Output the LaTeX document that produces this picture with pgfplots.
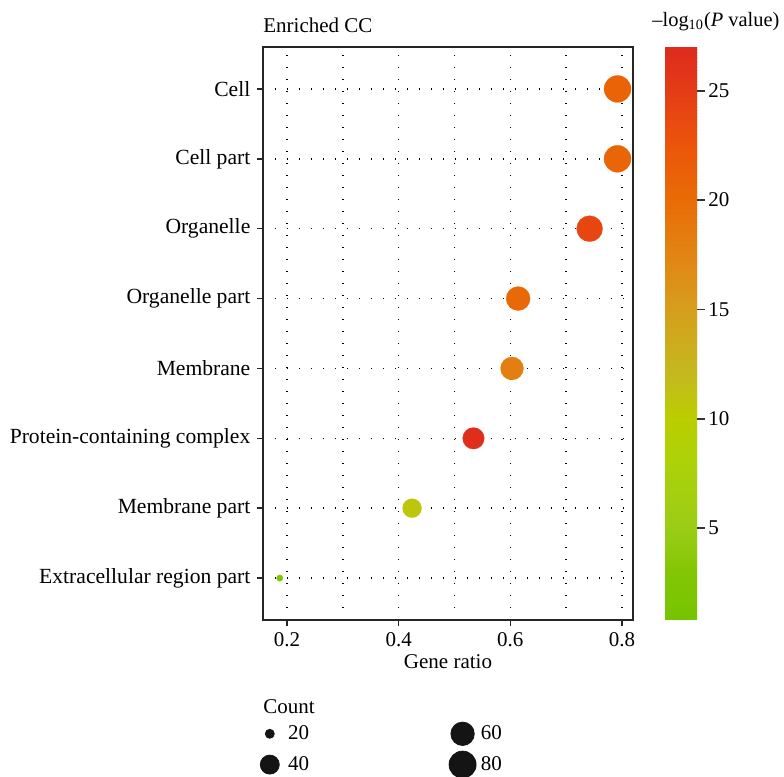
\documentclass[border=0pt]{standalone}
\usepackage{fontspec}
\setmainfont{Liberation Serif}
\usepackage{pgfplots}
\pgfplotsset{compat=1.18}
\usepackage{pgfplotstable}

% ratio = gene ratio, y = category index (1 = bottom), r = marker radius (pt), logp = -log10(P)
\pgfplotstableread{
ratio y r logp count
0.187 1 1.6 2.0 19
0.424 2 4.75 10.8 43
0.534 3 5.4 26.5 54
0.603 4 5.75 18.0 61
0.614 5 6.0 20.3 62
0.742 6 6.5 24.0 75
0.792 7 6.75 20.6 80
0.792 8 6.75 20.9 80
}\ccdata

\pgfplotsset{
  colormap={cc}{
    rgb255(8)=(118,196,0)
    rgb255(30)=(130,198,5)
    rgb255(50)=(155,204,22)
    rgb255(80)=(172,210,8)
    rgb255(100)=(186,206,0)
    rgb255(120)=(196,185,30)
    rgb255(150)=(214,158,28)
    rgb255(175)=(226,132,20)
    rgb255(200)=(233,108,6)
    rgb255(225)=(235,85,10)
    rgb255(250)=(228,60,22)
    rgb255(270)=(222,42,30)
  }
}

\begin{document}
\begin{tikzpicture}[font=\fontsize{10.5}{12.6}\selectfont]
\useasboundingbox (-131.5pt,-78.5pt) rectangle (260.5pt,310pt);
\begin{axis}[
  name=main,
  at={(0,0)}, anchor=south west,
  scale only axis,
  width=185pt, height=286.5pt,
  xmin=0.157, xmax=0.8197,
  ymin=0.4, ymax=8.6,
  xtick={0.2,0.4,0.6,0.8},
  minor xtick={0.3,0.5,0.7},
  xtick pos=bottom, ytick pos=left,
  xticklabel style={/pgf/number format/.cd, fixed, precision=1, assume math mode=true},
  ytick={1,2,3,4,5,6,7,8},
  yticklabels={Extracellular region part, Membrane part, Protein-containing complex, Membrane, Organelle part, Organelle, Cell part, Cell},
  yticklabel style={font=\fontsize{10.8}{13}\selectfont},
  xmajorgrids, xminorgrids, ymajorgrids,
  grid style={black, line width=0.7pt, dash pattern=on 0.7pt off 5.3pt},
  minor grid style={black, line width=0.7pt, dash pattern=on 0.7pt off 5.3pt},
  tick align=outside,
  major tick length=2.8pt, minor tick length=0pt,
  tick style={black!85, line width=0.75pt},
  axis line style={black!85, line width=0.8pt},
  xlabel={Gene ratio},
  xlabel style={at={(axis description cs:0.5,0)}, anchor=base, yshift=-24.5pt, inner sep=0pt},
  title={Enriched CC},
  title style={at={(axis description cs:0,1)}, anchor=base west, yshift=1.5pt, inner sep=0pt},
  colormap name=cc,
  point meta min=0.8, point meta max=27,
  colorbar sampled,
  colorbar style={
    samples=200,
    width=16pt,
    at={(parent axis.north east)}, anchor=north west, xshift=7.5pt,
    ytick={5,10,15,20,25},
    ytick pos=right,
    tick align=outside,
    major tick length=4pt,
    tick style={black!80, line width=0.8pt},
    axis line style={draw=none},
    yticklabel style={/pgf/number format/assume math mode=true, inner sep=1.5pt},
    title={\fontsize{10.2}{12}\selectfont\textendash log\textsubscript{10}(\textit{P} value)},
    title style={at={(axis description cs:-0.406,1)}, anchor=base west, yshift=4.5pt, inner sep=0pt},
  },
  legend columns=2,
  legend style={
    at={(axis description cs:0,0)}, anchor=north west,
    xshift=-4pt, yshift=-50.65pt,
    draw=none, fill=none, inner sep=0pt,
    row sep=2.4pt,
    cells={anchor=center},
    nodes={inner sep=0pt},
    /tikz/every odd column/.append style={column sep=2pt},
    /tikz/every even column/.append style={column sep=69.5pt},
  },
]
\addplot[
  scatter, only marks, mark=*, forget plot,
  scatter/use mapped color={draw=mapped color, fill=mapped color, line width=0.1pt},
  point meta=\thisrow{logp},
  visualization depends on={\thisrow{r} \as \rad},
  scatter/@pre marker code/.append style={/tikz/mark size=\rad},
] table[x=ratio, y=y] {\ccdata};

\addlegendimage{legend image code/.code={\path (-7pt,0pt) (7pt,0pt); \fill[black!92] (0pt,0pt) circle (2.25pt);}}
\addlegendentry{20}
\addlegendimage{legend image code/.code={\path (-7pt,0pt) (7pt,0pt); \fill[black!92] (0pt,0pt) circle (5.85pt);}}
\addlegendentry{60}
\addlegendimage{legend image code/.code={\path (-7pt,0pt) (7pt,0pt); \fill[black!92] (0pt,0pt) circle (4.75pt);}}
\addlegendentry{40}
\addlegendimage{legend image code/.code={\path (-7pt,0pt) (7pt,0pt); \fill[black!92] (0pt,0pt) circle (6.75pt);}}
\addlegendentry{80}
\end{axis}
\node[anchor=west, inner sep=0pt] at ([yshift=-43.5pt]main.south west) {Count};
\end{tikzpicture}
\end{document}
